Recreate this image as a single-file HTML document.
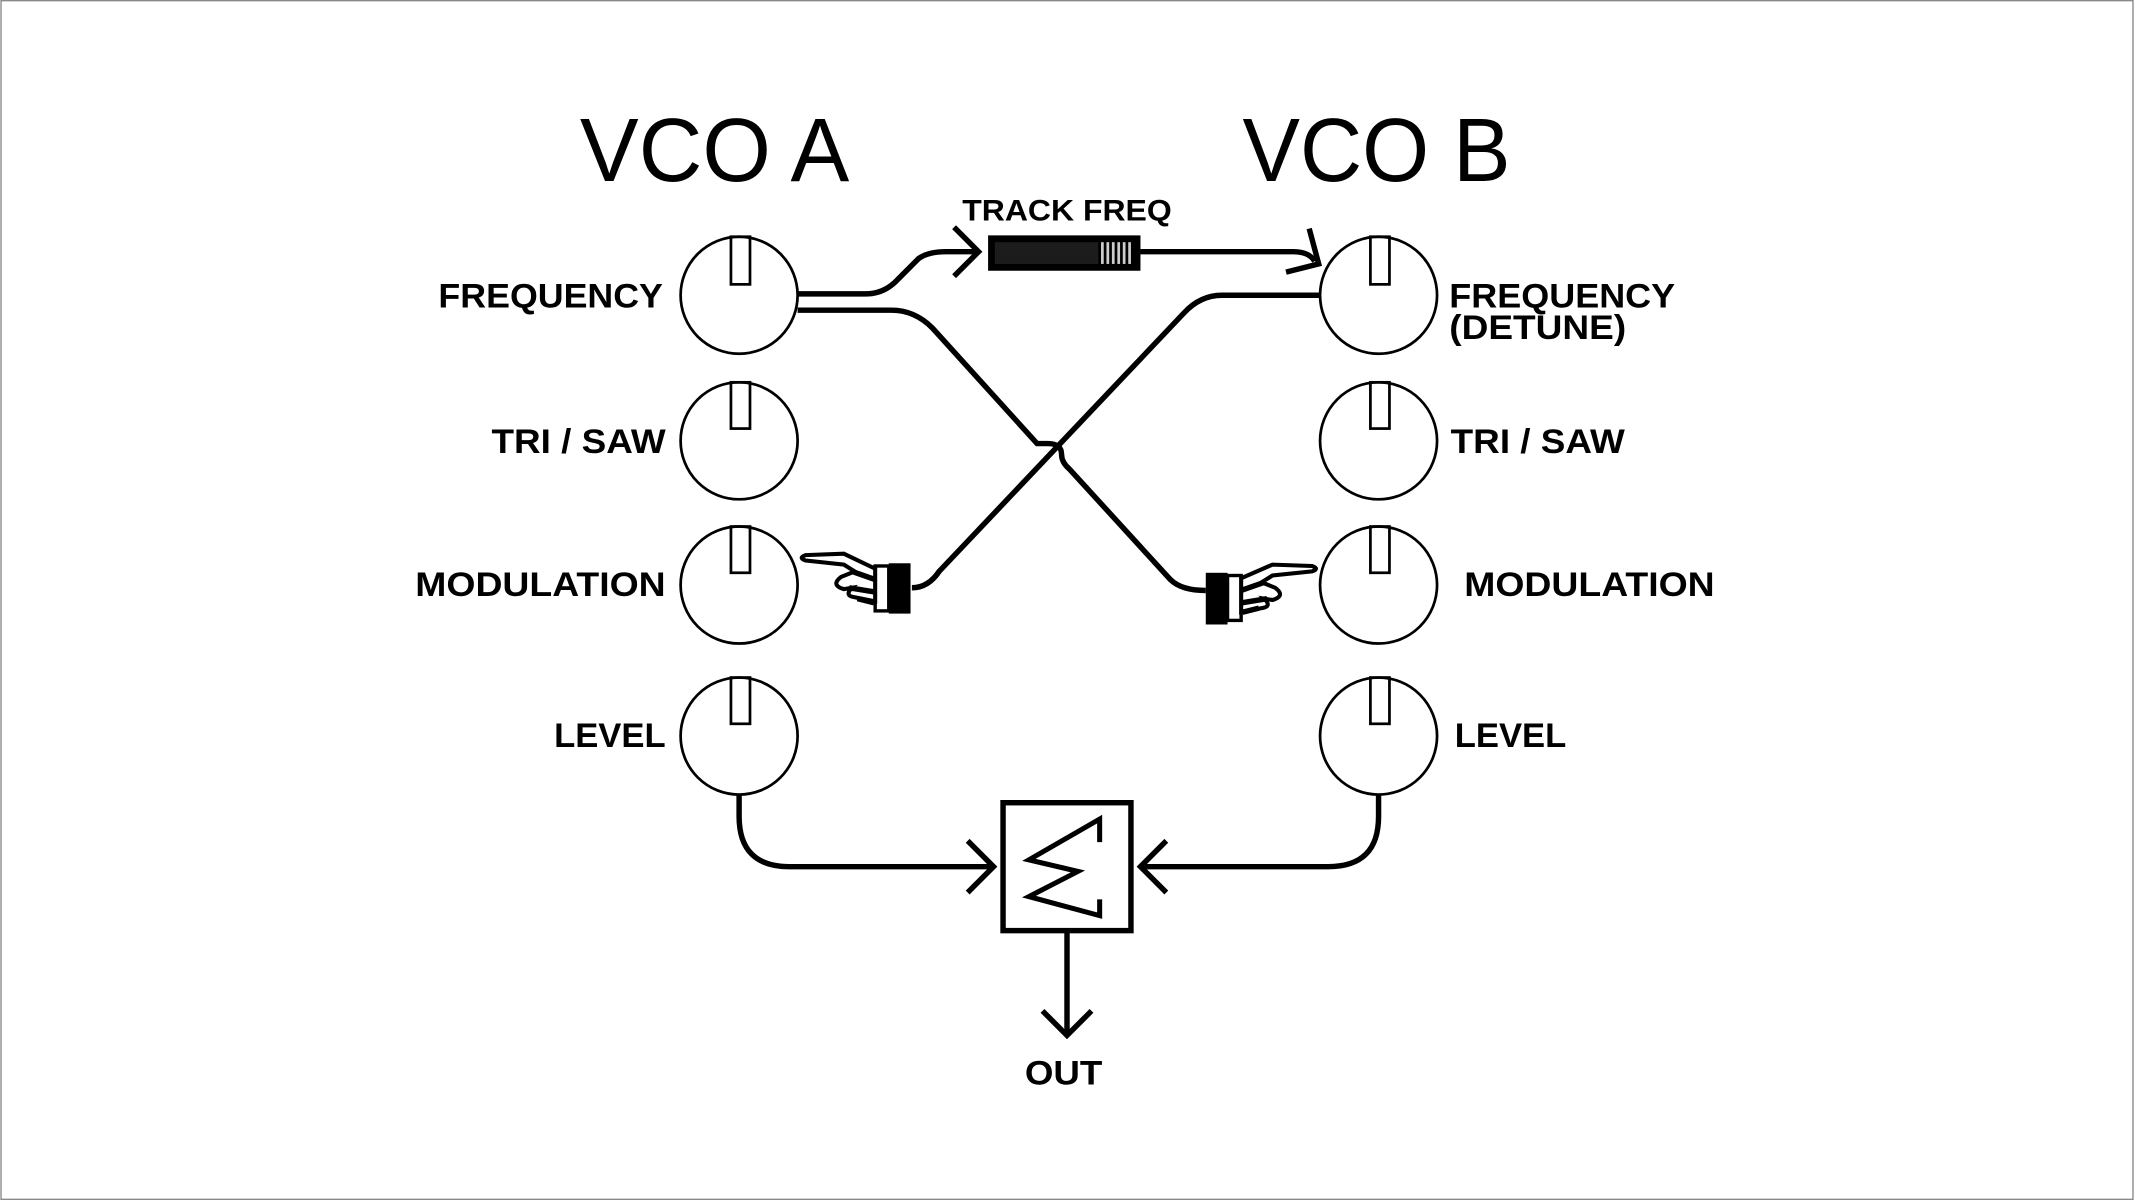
<!DOCTYPE html>
<html><head><meta charset="utf-8"><style>
html,body{margin:0;padding:0;background:#fff}
svg{display:block}
text{font-family:"Liberation Sans",sans-serif;fill:#000}
.b{font-weight:bold;font-size:25px}
</style></head><body>
<svg width="2134" height="1200" viewBox="0 0 1568 882" xmlns="http://www.w3.org/2000/svg">
<rect x="0.5" y="0.5" width="1567" height="881" fill="#fff" stroke="#888" stroke-width="1"/>
<text x="426" y="133" font-size="66" textLength="198" lengthAdjust="spacingAndGlyphs">VCO A</text>
<text x="913" y="133" font-size="66" textLength="197" lengthAdjust="spacingAndGlyphs">VCO B</text>
<text x="707" y="162" font-weight="bold" font-size="22" textLength="154" lengthAdjust="spacingAndGlyphs">TRACK FREQ</text>

<g fill="none" stroke="#000" stroke-width="2">
<circle cx="543" cy="217" r="43"/><circle cx="543" cy="324" r="43"/><circle cx="543" cy="430" r="43"/><circle cx="543" cy="541" r="43"/>
<circle cx="1013" cy="217" r="43"/><circle cx="1013" cy="324" r="43"/><circle cx="1013" cy="430" r="43"/><circle cx="1013" cy="541" r="43"/>
<rect x="537" y="174" width="14" height="35"/><rect x="537" y="281" width="14" height="34"/><rect x="537" y="387" width="14" height="34"/><rect x="537" y="498" width="14" height="34"/>
<rect x="1007" y="174" width="14" height="35"/><rect x="1007" y="281" width="14" height="34"/><rect x="1007" y="387" width="14" height="34"/><rect x="1007" y="498" width="14" height="34"/>
</g>

<g class="b">
<text x="322" y="226" textLength="165" lengthAdjust="spacingAndGlyphs">FREQUENCY</text>
<text x="361" y="333" textLength="128" lengthAdjust="spacingAndGlyphs">TRI / SAW</text>
<text x="305" y="438" textLength="184" lengthAdjust="spacingAndGlyphs">MODULATION</text>
<text x="407" y="549" textLength="82" lengthAdjust="spacingAndGlyphs">LEVEL</text>
<text x="1065" y="226" textLength="166" lengthAdjust="spacingAndGlyphs">FREQUENCY</text>
<text x="1065" y="249" textLength="130" lengthAdjust="spacingAndGlyphs">(DETUNE)</text>
<text x="1066" y="333" textLength="128" lengthAdjust="spacingAndGlyphs">TRI / SAW</text>
<text x="1076" y="438" textLength="184" lengthAdjust="spacingAndGlyphs">MODULATION</text>
<text x="1069" y="549" textLength="82" lengthAdjust="spacingAndGlyphs">LEVEL</text>
<text x="753" y="797" textLength="57" lengthAdjust="spacingAndGlyphs">OUT</text>
</g>

<g fill="none" stroke="#000" stroke-width="4">
<path d="M586 216 H636 Q650 216 660 205 L675 190 Q682 185 695 185 H718"/>
<path d="M701 167 L719 185 L701 203"/>
<path d="M838 185 H950 Q962 185 966 192"/>
<path d="M962 168 L969 194 L945 200"/>
<path d="M586 228 H655 Q672 228 685 241 L762 326 H770 Q780 326 780 334 Q780 340 786 345 L860 426 Q868 434 886 434"/>
<path d="M970 217 H898 Q882 217 870 230 L690 420 Q682 432 670 432"/>
<path d="M543 584 V600 Q543 637 580 637 H729"/>
<path d="M711 618 L730 637 L711 656"/>
<path d="M1013 584 V600 Q1013 637 976 637 H839"/>
<path d="M857 618 L838 637 L857 656"/>
<path d="M784 684 V760"/>
<path d="M766 743 L784 761 L802 743"/>
<rect x="737" y="590" width="94" height="94"/>
<path d="M808 619 V602 L756 632 L792 640.5 L756 659 L808 673 V661" stroke-width="3.7" stroke-linejoin="miter"/>
</g>

<rect x="726" y="173" width="112" height="26" fill="#000"/>
<rect x="731" y="178" width="76" height="16" fill="#1c1c1c"/>
<g fill="#ccc"><rect x="809" y="178" width="2" height="16"/><rect x="813" y="178" width="2" height="16"/><rect x="817" y="178" width="2" height="16"/><rect x="821" y="178" width="2" height="16"/><rect x="825" y="178" width="2" height="16"/><rect x="829" y="178" width="2" height="16"/></g>

<!-- left hand -->
<g>
<rect x="653" y="414" width="16" height="37" fill="#000"/>
<rect x="643" y="416" width="10" height="33" fill="#fff" stroke="#000" stroke-width="2.5"/>
<path d="M643 418 L620 407 L592 408 Q586 410 592 412 L620 415 L628 420 L618 424 Q610 430 620 433 L626 432 Q620 438 628 439 L643 442 Z" fill="#fff" stroke="#000" stroke-width="3"/>
<path d="M626 420 L643 426 M624 432 L642 435 M630 440 L642 443" stroke="#000" stroke-width="4"/>
</g>
<!-- right hand -->
<g>
<rect x="886" y="421" width="16" height="38" fill="#000"/>
<rect x="902" y="423" width="10" height="33" fill="#fff" stroke="#000" stroke-width="2.5"/>
<path d="M912 425 L935 415 L964 416 Q970 418 964 420 L935 423 L927 428 L937 432 Q945 438 935 441 L929 440 Q935 446 927 447 L912 450 Z" fill="#fff" stroke="#000" stroke-width="3"/>
<path d="M929 428 L912 434 M931 440 L913 443 M925 447 L913 450" stroke="#000" stroke-width="4"/>
</g>
</svg>
</body></html>
